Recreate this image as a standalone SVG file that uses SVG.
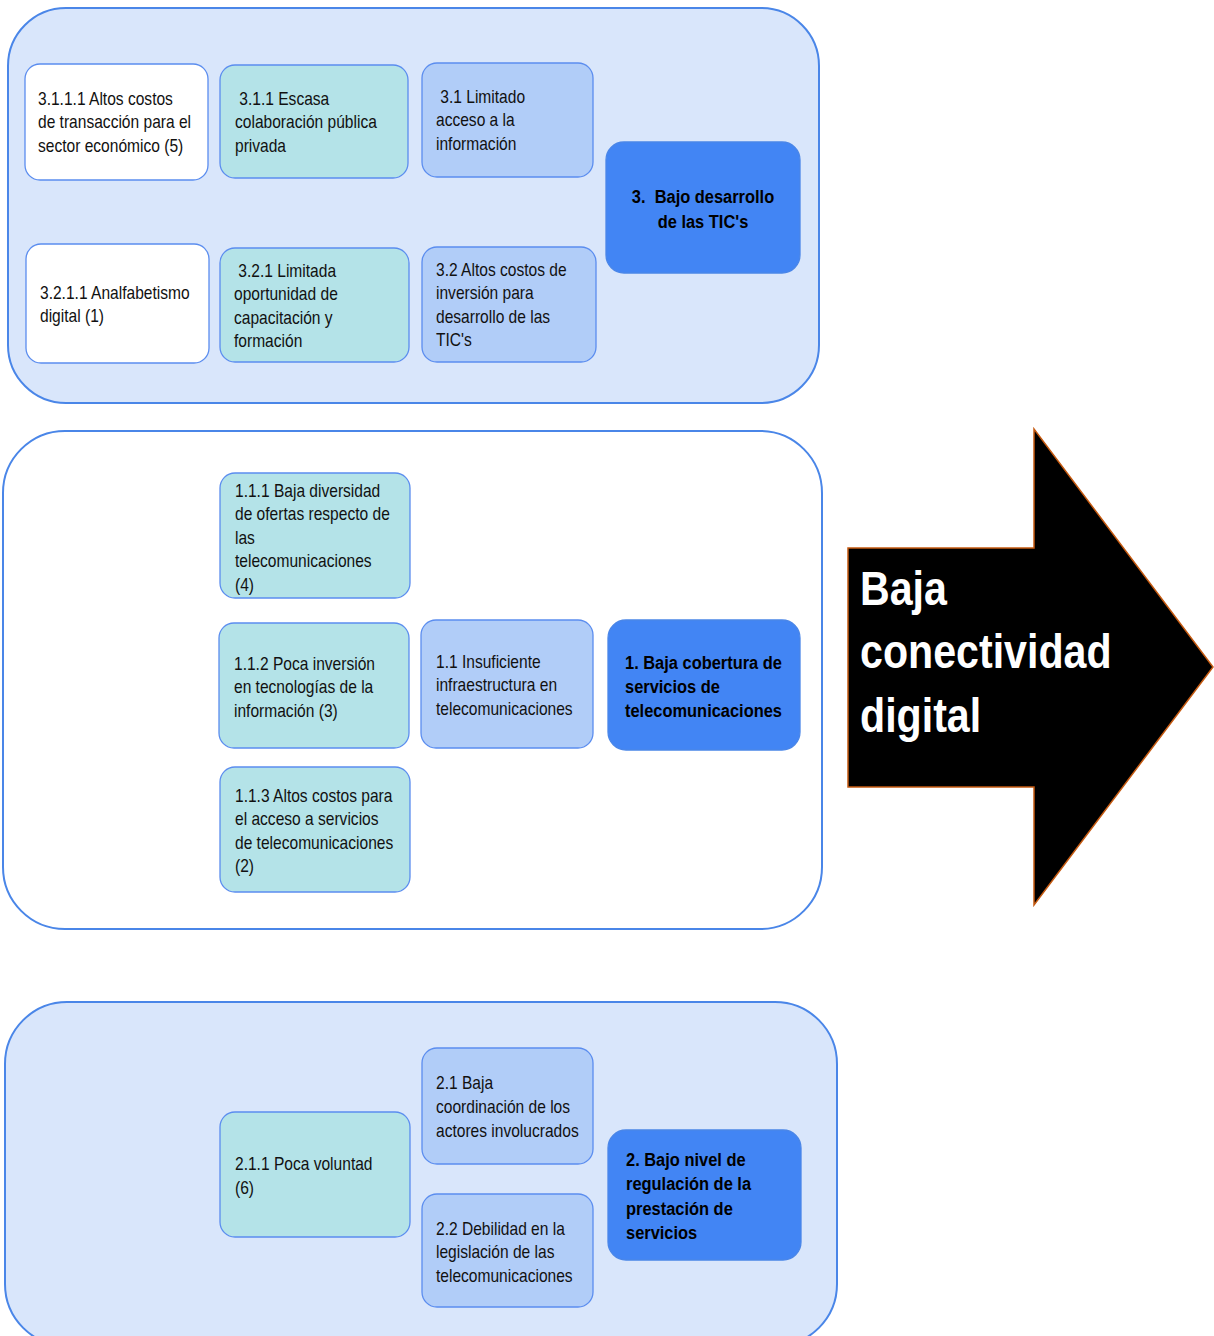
<svg xmlns="http://www.w3.org/2000/svg" width="1214" height="1336" viewBox="0 0 1214 1336">
<style>
.bg{fill:#ffffff}
.cont{fill:#d9e6fb;stroke:#4a86e8;stroke-width:2}
.contw{fill:#ffffff;stroke:#4a86e8;stroke-width:2}
.nw{fill:#ffffff;stroke:#5b8def;stroke-width:1.3}
.nt{fill:#b4e3e8;stroke:#5b8def;stroke-width:1.3}
.nb{fill:#b1cdf8;stroke:#5b8def;stroke-width:1.3}
.nd{fill:#4285f4;stroke:#4a86e8;stroke-width:1.3}
.t{font-family:"Liberation Sans",Arial,sans-serif;font-size:18px;fill:#111111}
.tb{font-family:"Liberation Sans",Arial,sans-serif;font-size:19px;font-weight:bold;fill:#000000}
.ta{font-family:"Liberation Sans",Arial,sans-serif;font-size:49px;font-weight:bold;fill:#ffffff}
.arrow{fill:#000000;stroke:#c55a11;stroke-width:1.5}
</style>
<rect class="bg" x="0" y="0" width="1214" height="1336"/>

<g id="group3">
<rect class="cont" x="8" y="8" width="811" height="395" rx="58" ry="58"/>
</g>
<g id="group1">
<rect class="contw" x="3" y="431" width="819" height="498" rx="62" ry="62"/>
</g>
<g id="group2">
<rect class="cont" x="5" y="1002" width="832" height="344" rx="62" ry="62"/>
</g>

<g id="n3111">
<rect class="nw" x="25" y="64" width="183" height="116" rx="15"/>
<text class="t" transform="translate(38,105) scale(0.865,1)"><tspan x="0" y="0">3.1.1.1 Altos costos</tspan><tspan x="0" y="23.5">de transacción para el</tspan><tspan x="0" y="47">sector económico (5)</tspan></text>
</g>
<g id="n311">
<rect class="nt" x="220" y="65" width="188" height="113" rx="15"/>
<text class="t" transform="translate(235,105) scale(0.865,1)"><tspan x="5" y="0">3.1.1 Escasa</tspan><tspan x="0" y="23.5">colaboración pública</tspan><tspan x="0" y="47">privada</tspan></text>
</g>
<g id="n3211">
<rect class="nw" x="26" y="244" width="183" height="119" rx="15"/>
<text class="t" transform="translate(40,299) scale(0.865,1)"><tspan x="0" y="0">3.2.1.1 Analfabetismo</tspan><tspan x="0" y="23.5">digital (1)</tspan></text>
</g>
<g id="n321">
<rect class="nt" x="220" y="248" width="189" height="114" rx="15"/>
<text class="t" transform="translate(234,277) scale(0.865,1)"><tspan x="5" y="0">3.2.1 Limitada</tspan><tspan x="0" y="23.5">oportunidad de</tspan><tspan x="0" y="47">capacitación y</tspan><tspan x="0" y="70.5">formación</tspan></text>
</g>
<g id="n31">
<rect class="nb" x="422" y="63" width="171" height="114" rx="15"/>
<text class="t" transform="translate(436,103) scale(0.865,1)"><tspan x="5" y="0">3.1 Limitado</tspan><tspan x="0" y="23.5">acceso a la</tspan><tspan x="0" y="47">información</tspan></text>
</g>
<g id="n32">
<rect class="nb" x="422" y="247" width="174" height="115" rx="15"/>
<text class="t" transform="translate(436,276) scale(0.865,1)"><tspan x="0" y="0">3.2 Altos costos de</tspan><tspan x="0" y="23.5">inversión para</tspan><tspan x="0" y="47">desarrollo de las</tspan><tspan x="0" y="70.5">TIC's</tspan></text>
</g>
<g id="n3">
<rect class="nd" x="606" y="142" width="194" height="131" rx="18"/>
<text class="tb" transform="translate(703,203) scale(0.865,1)" text-anchor="middle"><tspan x="0" y="0" xml:space="preserve">3.  Bajo desarrollo</tspan><tspan x="0" y="25">de las TIC's</tspan></text>
</g>

<g id="n111">
<rect class="nt" x="220" y="473" width="190" height="125" rx="15"/>
<text class="t" transform="translate(235,497) scale(0.865,1)"><tspan x="0" y="0">1.1.1 Baja diversidad</tspan><tspan x="0" y="23.5">de ofertas respecto de</tspan><tspan x="0" y="47">las</tspan><tspan x="0" y="70.5">telecomunicaciones</tspan><tspan x="0" y="94">(4)</tspan></text>
</g>
<g id="n112">
<rect class="nt" x="219" y="623" width="190" height="125" rx="15"/>
<text class="t" transform="translate(234,670) scale(0.865,1)"><tspan x="0" y="0">1.1.2 Poca inversión</tspan><tspan x="0" y="23.5">en tecnologías de la</tspan><tspan x="0" y="47">información (3)</tspan></text>
</g>
<g id="n113">
<rect class="nt" x="220" y="767" width="190" height="125" rx="15"/>
<text class="t" transform="translate(235,802) scale(0.865,1)"><tspan x="0" y="0">1.1.3 Altos costos para</tspan><tspan x="0" y="23.5">el acceso a servicios</tspan><tspan x="0" y="47">de telecomunicaciones</tspan><tspan x="0" y="70.5">(2)</tspan></text>
</g>
<g id="n11">
<rect class="nb" x="421" y="620" width="172" height="128" rx="15"/>
<text class="t" transform="translate(436,668) scale(0.865,1)"><tspan x="0" y="0">1.1 Insuficiente</tspan><tspan x="0" y="23.5">infraestructura en</tspan><tspan x="0" y="47">telecomunicaciones</tspan></text>
</g>
<g id="n1">
<rect class="nd" x="608" y="620" width="192" height="130" rx="18"/>
<text class="tb" transform="translate(625,669) scale(0.865,1)"><tspan x="0" y="0">1. Baja cobertura de</tspan><tspan x="0" y="24">servicios de</tspan><tspan x="0" y="48">telecomunicaciones</tspan></text>
</g>

<g id="n211">
<rect class="nt" x="220" y="1112" width="190" height="125" rx="15"/>
<text class="t" transform="translate(235,1170) scale(0.865,1)"><tspan x="0" y="0">2.1.1 Poca voluntad</tspan><tspan x="0" y="24">(6)</tspan></text>
</g>
<g id="n21">
<rect class="nb" x="422" y="1048" width="171" height="116" rx="15"/>
<text class="t" transform="translate(436,1089) scale(0.865,1)"><tspan x="0" y="0">2.1 Baja</tspan><tspan x="0" y="24">coordinación de los</tspan><tspan x="0" y="48">actores involucrados</tspan></text>
</g>
<g id="n22">
<rect class="nb" x="422" y="1194" width="171" height="113" rx="15"/>
<text class="t" transform="translate(436,1235) scale(0.865,1)"><tspan x="0" y="0">2.2 Debilidad en la</tspan><tspan x="0" y="23.5">legislación de las</tspan><tspan x="0" y="47">telecomunicaciones</tspan></text>
</g>
<g id="n2">
<rect class="nd" x="608" y="1130" width="193" height="130" rx="18"/>
<text class="tb" transform="translate(626,1166) scale(0.865,1)"><tspan x="0" y="0">2. Bajo nivel de</tspan><tspan x="0" y="24.5">regulación de la</tspan><tspan x="0" y="49">prestación de</tspan><tspan x="0" y="73.5">servicios</tspan></text>
</g>

<g id="arrow">
<polygon class="arrow" points="848,548 1034,548 1034,429 1213,667 1034,905 1034,787 848,787"/>
<text class="ta" transform="translate(860,605) scale(0.84,1)"><tspan x="0" y="0">Baja</tspan><tspan x="0" y="63">conectividad</tspan><tspan x="0" y="127">digital</tspan></text>
</g>

<g id="connectors"></g>
</svg>
